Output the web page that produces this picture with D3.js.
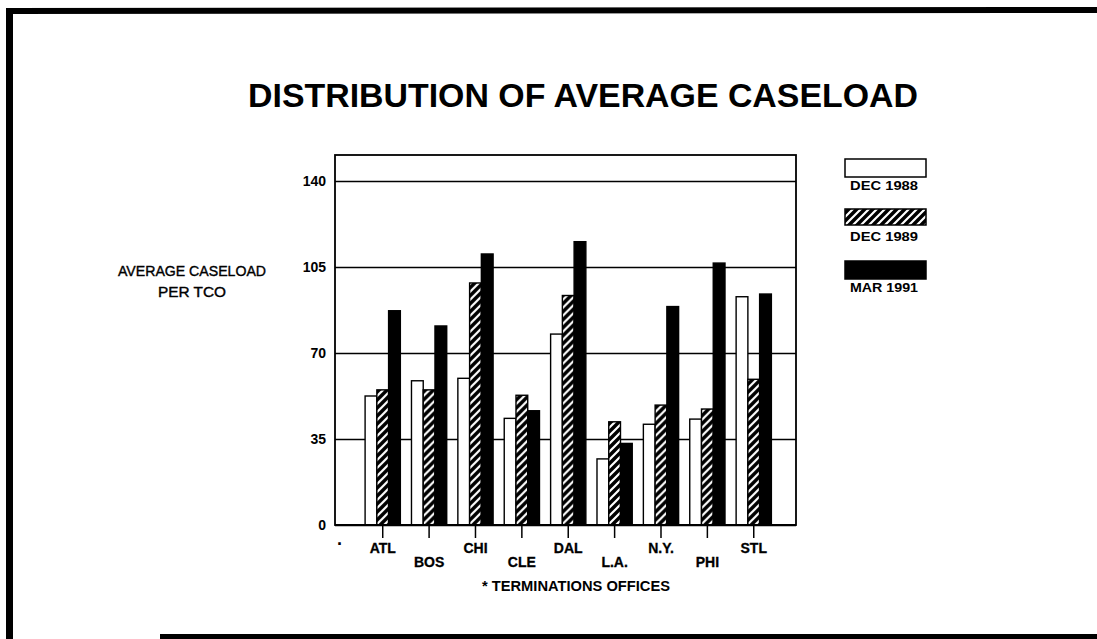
<!DOCTYPE html>
<html>
<head>
<meta charset="utf-8">
<script src="https://cdn.jsdelivr.net/npm/d3@7"></script>
<style>
  body { margin: 0; background: #fff; }
  svg { display: block; font-family: "Liberation Sans", Arial, sans-serif; }
</style>
</head>
<body>
<script>
// offices along the x axis
var offices = ["ATL", "BOS", "CHI", "CLE", "DAL", "L.A.", "N.Y.", "PHI", "STL"];
// series
var seriesNames = ["DEC 1988", "DEC 1989", "MAR 1991"];
var dec1988 = [52.5, 58.7, 59.7, 43.4, 77.7, 26.9, 41.0, 43.1, 92.9];
var dec1989 = [55.0, 55.0, 98.5, 52.8, 93.4, 42.0, 48.8, 47.2, 59.3];
var mar1991 = [87.2, 81.0, 110.3, 46.5, 115.3, 33.2, 88.9, 106.6, 94.0];
var yTicks = [0, 35, 70, 105, 140];

var W = 1097, H = 639;
// note: "top" is taken by window.top, so plot edges get their own names
var plotLeft = 335, plotRight = 796, plotTop = 155, plotBottom = 525;

var svg = d3.select("body").append("svg")
    .attr("width", W)
    .attr("height", H);

// hatch pattern: black ground, white "/" strokes
var defs = svg.append("defs");
var pat = defs.append("pattern")
    .attr("id", "hatch")
    .attr("patternUnits", "userSpaceOnUse")
    .attr("width", 8)
    .attr("height", 8);
pat.append("rect").attr("width", 8).attr("height", 8).attr("fill", "#000");
pat.append("path")
    .attr("d", "M-2,2 L2,-2 M0,8 L8,0 M6,10 L10,6")
    .attr("stroke", "#fff")
    .attr("stroke-width", 2.2);

var fills = ["#fff", "url(#hatch)", "#000"];

// page border (left, top, bottom as on the scan)
svg.append("line").attr("x1", 9.5).attr("y1", 8).attr("x2", 9.5).attr("y2", 639)
    .attr("stroke", "#000").attr("stroke-width", 7);
svg.append("line").attr("x1", 6).attr("y1", 11).attr("x2", 1097).attr("y2", 10)
    .attr("stroke", "#000").attr("stroke-width", 6);
svg.append("line").attr("x1", 160).attr("y1", 636.5).attr("x2", 1097).attr("y2", 636.5)
    .attr("stroke", "#000").attr("stroke-width", 5);

// title
svg.append("text")
    .attr("x", 583).attr("y", 107)
    .attr("text-anchor", "middle")
    .attr("font-size", 34).attr("font-weight", "bold")
    .attr("textLength", 670).attr("lengthAdjust", "spacingAndGlyphs")
    .text("DISTRIBUTION OF AVERAGE CASELOAD");

var x = d3.scaleBand()
    .domain(offices)
    .range([plotLeft, plotRight])
    .paddingInner(0.24)
    .paddingOuter(0.59)
    .align(0.55);

var xSub = d3.scaleBand()
    .domain(seriesNames)
    .range([0, x.bandwidth()]);

var y = d3.scaleLinear()
    .domain([0, 140])
    .range([plotBottom, 181]);

// gridlines + y labels
var yAxis = d3.axisLeft(y)
    .tickValues(yTicks)
    .tickSize(-(plotRight - plotLeft))
    .tickPadding(9)
    .tickFormat(d3.format("d"));

var gy = svg.append("g")
    .attr("transform", "translate(" + plotLeft + ",0)")
    .call(yAxis);
gy.select(".domain").remove();
gy.selectAll(".tick line").attr("stroke", "#000").attr("stroke-width", 1.6);
gy.selectAll(".tick text")
    .attr("font-size", 14).attr("font-weight", "bold")
    .attr("font-family", "'Liberation Sans', Arial, sans-serif")
    .attr("fill", "#000");

// plot frame
svg.append("rect")
    .attr("x", plotLeft).attr("y", plotTop)
    .attr("width", plotRight - plotLeft).attr("height", plotBottom - plotTop)
    .attr("fill", "none").attr("stroke", "#000").attr("stroke-width", 1.8);

// bars
var rows = offices.map(function(o, i) {
  return { office: o, vals: [dec1988[i], dec1989[i], mar1991[i]] };
});

var groups = svg.append("g").selectAll("g")
    .data(rows)
    .enter()
    .append("g")
    .attr("transform", function(d) { return "translate(" + x(d.office) + ",0)"; });

groups.selectAll("rect")
    .data(function(d) { return d.vals.map(function(v, k) { return { s: seriesNames[k], v: v, k: k }; }); })
    .enter()
    .append("rect")
    .attr("x", function(d) { return xSub(d.s); })
    .attr("y", function(d) { return y(d.v); })
    .attr("width", xSub.bandwidth())
    .attr("height", function(d) { return y(0) - y(d.v); })
    .attr("fill", function(d) { return fills[d.k]; })
    .attr("stroke", "#000")
    .attr("stroke-width", 1.4);

// x axis line, ticks and staggered labels
svg.append("line")
    .attr("x1", plotLeft).attr("x2", plotRight).attr("y1", plotBottom).attr("y2", plotBottom)
    .attr("stroke", "#000").attr("stroke-width", 2);

var xt = svg.append("g").selectAll("g")
    .data(offices)
    .enter()
    .append("g")
    .attr("transform", function(d) { return "translate(" + (x(d) + x.bandwidth() / 2) + ",0)"; });

xt.append("line")
    .attr("y1", plotBottom).attr("y2", plotBottom + 13)
    .attr("stroke", "#000").attr("stroke-width", 1.5);

xt.append("text")
    .attr("y", function(d, i) { return i % 2 == 0 ? 553 : 567; })
    .attr("text-anchor", "middle")
    .attr("font-size", 14).attr("font-weight", "bold")
    .attr("stroke", "#000").attr("stroke-width", 0.3)
    .text(function(d) { return d; });

svg.append("text")
    .attr("x", 340).attr("y", 550)
    .attr("text-anchor", "middle")
    .attr("font-size", 18).attr("font-weight", "bold")
    .text("·");

svg.append("text")
    .attr("x", 576).attr("y", 591)
    .attr("text-anchor", "middle")
    .attr("font-size", 14).attr("font-weight", "bold")
    .attr("textLength", 188).attr("lengthAdjust", "spacingAndGlyphs")
    .text("* TERMINATIONS OFFICES");

// y axis title
var yt = svg.append("text")
    .attr("text-anchor", "middle")
    .attr("font-size", 15)
    .attr("stroke", "#000").attr("stroke-width", 0.4);
yt.append("tspan").attr("x", 192).attr("y", 276)
    .attr("textLength", 148).attr("lengthAdjust", "spacingAndGlyphs")
    .text("AVERAGE CASELOAD");
yt.append("tspan").attr("x", 192).attr("y", 297)
    .attr("textLength", 68).attr("lengthAdjust", "spacingAndGlyphs")
    .text("PER TCO");

// legend
var legY = [159, 209, 261];
var leg = svg.append("g").selectAll("g")
    .data(seriesNames)
    .enter()
    .append("g")
    .attr("transform", function(d, i) { return "translate(845," + legY[i] + ")"; });

leg.append("rect")
    .attr("width", 81).attr("height", function(d, i) { return i == 1 ? 16 : 18; })
    .attr("fill", function(d, i) { return fills[i]; })
    .attr("stroke", "#000").attr("stroke-width", 1.5);

leg.append("text")
    .attr("x", 39).attr("y", function(d, i) { return i == 1 ? 32 : 31; })
    .attr("text-anchor", "middle")
    .attr("font-size", 13).attr("font-weight", "bold")
    .attr("textLength", 68).attr("lengthAdjust", "spacingAndGlyphs")
    .text(function(d) { return d; });
</script>
</body>
</html>
